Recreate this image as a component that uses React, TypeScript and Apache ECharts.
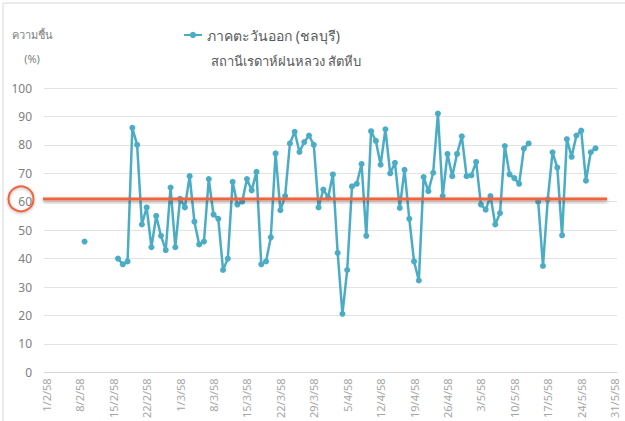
import React, { useEffect, useRef } from "react";
import * as echarts from "echarts";

const seriesName = "ภาคตะวันออก (ชลบุรี)";
const subTitle = "สถานีเรดาห์ฝนหลวง สัตหีบ";
const yAxisTitle = "ความชื้น\n(%)";

// months covered (Buddhist-era year 58): [month, days]
const months: [number, number][] = [[2, 28], [3, 31], [4, 30], [5, 31]];
const dates: string[] = [];
months.forEach(([m, n]) => { for (let d = 1; d <= n; d++) dates.push(`${d}/${m}/58`); });

const humidity: (number | null)[] = [
  null, null, null, null, null, null, null, null,
  46,
  null, null, null, null, null, null,
  40, 38, 39, 86, 80, 52, 58, 44, 55, 48, 43, 65,
  44, 61, 58, 69, 53, 45, 46, 68, 55.5, 54, 36, 40, 67, 59, 60, 68, 64, 70.5, 38, 39, 47.5,
  77, 57, 62, 80.5, 84.6, 77.5, 81, 83.3, 80, 58, 64.3, 61.5, 69.6, 42, 20.6, 36, 65.4, 66.3, 73.3, 48, 84.8,
  81.4, 73, 85.5, 70, 73.7, 57.8, 71.2, 54, 39, 32.3, 68.7, 63.7, 70.2, 91, 62, 76.8, 69, 76.8, 83, 69, 69.3, 74, 59, 57.2, 62, 52, 56, 79.6, 69.6, 68.3, 66.3, 78.7, 80.5,
  null,
  60, 37.4, 60.8, 77.4, 72, 48.2, 82, 75.8, 83.3, 85, 67.4, 77.4, 78.8,
  null, null, null, null,
];

const thresholdValue = 61;

const FONT = "'Noto Sans', 'DejaVu Sans', sans-serif";

export default function App() {
  const ref = useRef<HTMLDivElement>(null);
  useEffect(() => {
    if (!ref.current) return;
    const chart = echarts.init(ref.current, undefined, { renderer: "svg" });
    chart.setOption({
      animation: false,
      backgroundColor: "#ffffff",
      textStyle: { fontFamily: FONT },
      grid: { left: 44, right: 8, top: 88, bottom: 48 },
      legend: {
        data: [seriesName],
        left: 178,
        top: 23,
        itemWidth: 18,
        itemHeight: 8,
        itemGap: 4,
        textStyle: { fontSize: 14, color: "#595959", fontFamily: FONT },
      },
      title: {
        text: subTitle,
        left: 206,
        top: 49,
        textStyle: { fontSize: 13, fontWeight: "normal", color: "#595959", fontFamily: FONT },
      },
      xAxis: {
        type: "category",
        data: dates,
        boundaryGap: true,
        axisLine: { lineStyle: { color: "#d9d9d9", width: 1 } },
        axisTick: { show: false },
        axisLabel: {
          interval: 6,
          rotate: 90,
          fontSize: 11,
          color: "#a6a6a6",
          margin: 6,
          fontFamily: FONT,
        },
        splitLine: { show: false },
      },
      yAxis: {
        type: "value",
        min: 0,
        max: 100,
        interval: 10,
        axisLine: { show: false },
        axisTick: { show: false },
        axisLabel: { fontSize: 12, color: "#808080", margin: 12, fontFamily: FONT },
        splitLine: { lineStyle: { color: "#e3e3e3", width: 1 } },
      },
      series: [
        {
          name: seriesName,
          type: "line",
          data: humidity,
          connectNulls: false,
          symbol: "circle",
          symbolSize: 6,
          showSymbol: true,
          showAllSymbol: true,
          lineStyle: { color: "#4bacc6", width: 2.5 },
          itemStyle: { color: "#4bacc6" },
        },
      ],
    });

    const yPx = chart.convertToPixel({ yAxisIndex: 0 }, thresholdValue) as number;
    chart.setOption({
      graphic: [
        {
          type: "rect",
          shape: { x: 3, y: 3, width: 700, height: 500 },
          style: { fill: "none", stroke: "#d9d9d9", lineWidth: 1 },
          silent: true,
        },
        {
          type: "text",
          x: 32,
          y: 22,
          style: {
            text: yAxisTitle,
            align: "center",
            fontSize: 11,
            lineHeight: 24,
            fill: "#7f7f7f",
            fontFamily: FONT,
          },
        },
        {
          type: "rect",
          shape: { x: 43, y: yPx - 1.5, width: 564, height: 3 },
          style: {
            fill: "#f0643c",
            shadowBlur: 4,
            shadowOffsetY: 2,
            shadowColor: "rgba(0,0,0,0.35)",
          },
          z: 10,
        },
        {
          type: "circle",
          shape: { cx: 21, cy: yPx, r: 12.5 },
          style: {
            fill: "none",
            stroke: "#f0643c",
            lineWidth: 2,
            shadowBlur: 3,
            shadowOffsetY: 1,
            shadowColor: "rgba(0,0,0,0.3)",
          },
          z: 10,
        },
      ],
    });
    return () => chart.dispose();
  }, []);
  return (
    <div
      ref={ref}
      style={{ position: "fixed", left: 0, top: 0, width: 625, height: 421 }}
    />
  );
}
